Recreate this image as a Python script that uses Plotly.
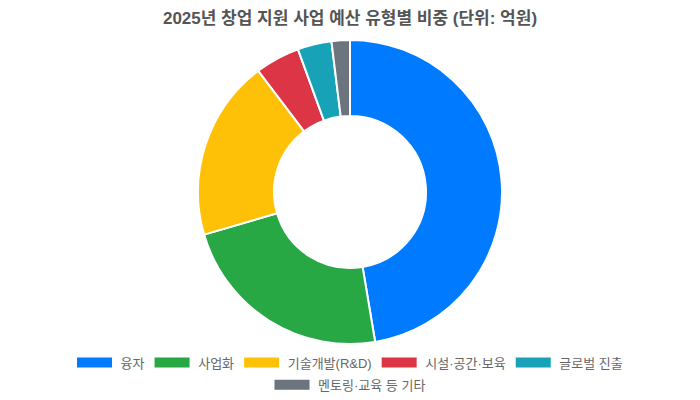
import plotly.graph_objects as go

# 2025년 창업 지원 사업 예산 (억원) - 그림에서 읽은 추정값
categories = ["융자", "사업화", "기술개발(R&D)", "시설·공간·보육", "글로벌 진출", "멘토링·교육 등 기타"]
budget = [17000, 8300, 6900, 1700, 1300, 700]
colors = ["#007bff", "#28a745", "#ffc107", "#dc3545", "#17a2b8", "#6c757d"]

fig = go.Figure()
fig.add_trace(go.Pie(
    labels=categories,
    values=budget,
    hole=0.5,
    sort=False,
    direction="clockwise",
    rotation=0,
    textinfo="none",
    showlegend=False,
    marker=dict(colors=colors, line=dict(color="white", width=2)),
))

# 범례용 빈 트레이스 (첫 줄 5개, 둘째 줄 1개를 가운데 정렬하려고 범례를 두 개로 나눔)
for i, (name, col) in enumerate(zip(categories, colors)):
    fig.add_trace(go.Scatter(
        x=[None], y=[None],
        mode="lines",
        name="\u00a0" + name,
        line=dict(color=col, width=11),
        legend="legend" if i < 5 else "legend2",
        hoverinfo="skip",
    ))

legend_style = dict(
    orientation="h",
    x=0.5, xanchor="center",
    yanchor="top",
    itemwidth=35,
    font=dict(size=13, color="#666666"),
    bgcolor="rgba(0,0,0,0)",
)

fig.update_layout(
    width=700,
    height=400,
    title=dict(
        text="<b>2025년 창업 지원 사업 예산 유형별 비중 (단위: 억원)</b>",
        x=0.5, xref="paper", xanchor="center", y=0.975, yanchor="middle",
        font=dict(size=17, color="#555555"),
    ),
    font=dict(family="Liberation Sans, Noto Sans CJK KR, sans-serif", color="#666666", size=12),
    margin=dict(l=4, r=20, t=32, b=64),
    xaxis=dict(visible=False),
    yaxis=dict(visible=False),
    legend=dict(legend_style, y=-0.012),
    legend2=dict(legend_style, y=-0.085),
    paper_bgcolor="white",
    plot_bgcolor="white",
)

fig.write_html("out.html")
